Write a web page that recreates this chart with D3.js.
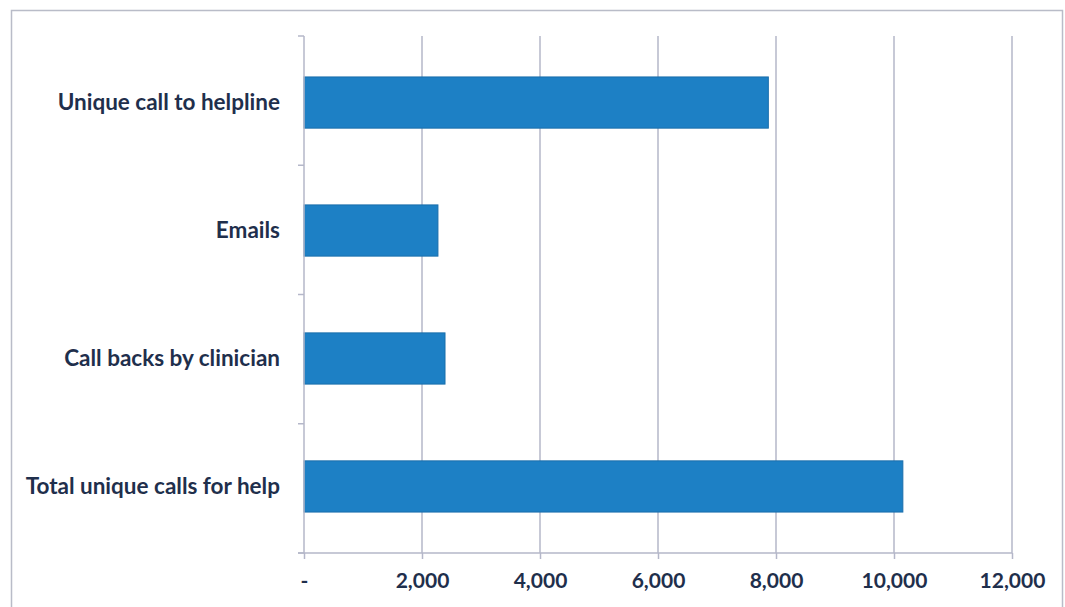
<!DOCTYPE html>
<html>
<head>
<meta charset="utf-8">
<script src="https://cdn.jsdelivr.net/npm/d3@7"></script>
<style>
  body { margin: 0; background: #fff; }
  text { font-family: Lato, "Open Sans", sans-serif; font-weight: 700; fill: #1f2f4c; }
</style>
</head>
<body>
<script>
// chart data
var categories = ["Unique call to helpline", "Emails", "Call backs by clinician", "Total unique calls for help"];
var values = [7870, 2270, 2390, 10150];
var xTicks = [0, 2000, 4000, 6000, 8000, 10000, 12000];

var width = 1065, height = 607;
var margin = {left: 304, right: 53, top: 36, bottom: 54};

var svg = d3.select("body").append("svg").attr("width", width).attr("height", height);

// outer chart border
svg.append("rect")
    .attr("x", 11.5).attr("y", 10.5)
    .attr("width", 1051).attr("height", 620)
    .style("fill", "none").style("stroke", "#b9bcc8").style("stroke-width", 1.5);

var x = d3.scaleLinear().domain([0, 12000]).range([margin.left, width - margin.right]);
var y = d3.scaleBand().domain(categories).range([margin.top, height - margin.bottom]).paddingInner(0.6).paddingOuter(0.32);

// vertical gridlines
svg.selectAll(".grid")
    .data(xTicks.slice(1))
    .enter().append("line")
    .attr("class", "grid")
    .attr("x1", d => x(d)).attr("x2", d => x(d))
    .attr("y1", margin.top).attr("y2", height - margin.bottom)
    .style("stroke", "#b4b7c9").style("stroke-width", 1.5);

// bars
svg.selectAll(".bar")
    .data(values)
    .enter().append("rect")
    .attr("class", "bar")
    .attr("x", x(0))
    .attr("y", (d, i) => y(categories[i]))
    .attr("width", d => x(d) - x(0))
    .attr("height", y.bandwidth())
    .style("fill", "#1d80c5")
    .style("stroke", "#1a6eab").style("stroke-width", 1);

// x axis
var xAxis = d3.axisBottom(x).tickValues(xTicks).tickSize(6).tickPadding(14)
    .tickFormat(d => d === 0 ? "-" : d3.format(",")(d));
var gx = svg.append("g").attr("transform", "translate(0," + (height - margin.bottom) + ")").call(xAxis);
gx.select(".domain").attr("d", "M" + (x(0) - 6) + ",0H" + x(12000)).style("stroke", "#b4b7c9").style("stroke-width", 1.5);
gx.selectAll(".tick line").style("stroke", "#b4b7c9").style("stroke-width", 1.5);
gx.selectAll(".tick text").style("font-size", "21px").attr("fill", "#1f3a5f");

// y axis with ticks between categories
var yEdges = d3.range(categories.length + 1).map(i => margin.top + i * (height - margin.top - margin.bottom) / categories.length);
var gy = svg.append("g");
gy.append("line")
    .attr("x1", x(0)).attr("x2", x(0))
    .attr("y1", margin.top).attr("y2", height - margin.bottom)
    .style("stroke", "#b4b7c9").style("stroke-width", 1.5);
gy.selectAll(".ytick")
    .data(yEdges)
    .enter().append("line")
    .attr("x1", x(0) - 6).attr("x2", x(0))
    .attr("y1", d => d).attr("y2", d => d)
    .style("stroke", "#b4b7c9").style("stroke-width", 1.5);
gy.selectAll(".ylabel")
    .data(categories)
    .enter().append("text")
    .attr("x", x(0) - 24)
    .attr("y", d => y(d) + y.bandwidth() / 2)
    .attr("dy", "0.35em")
    .attr("text-anchor", "end")
    .style("font-size", "22.5px")
    .text(d => d);
</script>
</body>
</html>
